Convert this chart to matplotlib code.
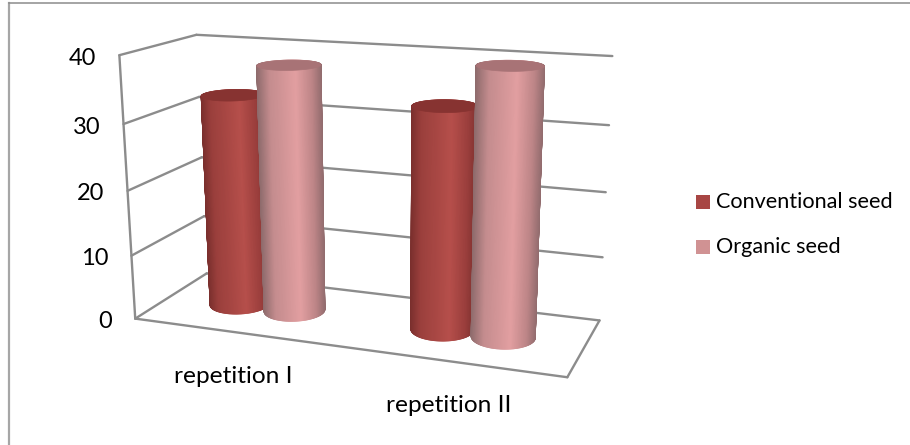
import numpy as np
import matplotlib
matplotlib.use("Agg")
import matplotlib.pyplot as plt
from matplotlib.collections import PolyCollection
from matplotlib.colors import to_rgb
from matplotlib.patches import Rectangle, Polygon

categories = ["repetition I", "repetition II"]
series_names = ["Conventional seed", "Organic seed"]
conventional = [33, 33.5]
organic = [38, 39.7]
z_ticks = [0, 10, 20, 30, 40]

GRID = "#8c8c8c"
TEXT = "#000000"
plt.rcParams["font.family"] = ["Lato", "DejaVu Sans"]

# box corners: (category, depth, value) -> pixel position, used to fit the camera
box_world = np.array([
    [0, 0, 0], [0, 1, 0], [2, 1, 0], [2, 0, 0],
    [0, 0, 40], [0, 1, 40], [2, 1, 40],
], dtype=float)
box_pixels = np.array([
    [134, 319], [208, 273], [599.3, 320.7], [567.3, 377],
    [120.7, 55], [195, 35], [612.6, 56],
])


def fit_camera(world, pix):
    rows = []
    for (x, y, z), (u, v) in zip(world, pix):
        p = [x, y, z / 40, 1]
        rows.append(p + [0, 0, 0, 0] + [-u * c for c in p])
        rows.append([0, 0, 0, 0] + p + [-v * c for c in p])
    _, _, vt = np.linalg.svd(np.array(rows))
    return vt[-1].reshape(3, 4)


cam = fit_camera(box_world, box_pixels)


def project(x, y, z):
    x, y, z = np.broadcast_arrays(x, y, z)
    p = np.stack([x, y, z / 40, np.ones(x.shape)], axis=-1)
    q = p @ cam.T
    return q[..., 0] / q[..., 2], q[..., 1] / q[..., 2]


def seg(ax, a, b):
    u, v = project(np.array([a[0], b[0]], float), np.array([a[1], b[1]], float),
                   np.array([a[2], b[2]], float))
    ax.plot(u, v, color=GRID, lw=1.7, solid_capstyle="round", zorder=1)


def cylinder(ax, cx, value, width, depth, stops, cap, z):
    # side strips drawn back to front, colour from position across the silhouette
    t = np.linspace(0, 2 * np.pi, 241)
    rx = cx + width / 2 * np.cos(t)
    ry = 0.5 + depth / 2 * np.sin(t)
    bu, bv = project(rx, ry, 0 * t)
    tu, tv = project(rx, ry, value + 0 * t)
    fr = (bu - bu.min()) / (bu.max() - bu.min())
    pos = [s[0] for s in stops]
    rgb = np.array([to_rgb(s[1]) for s in stops])
    order = np.argsort(-ry[:-1])
    polys, cols = [], []
    for i in order:
        polys.append([(bu[i], bv[i]), (bu[i + 1], bv[i + 1]), (tu[i + 1], tv[i + 1]), (tu[i], tv[i])])
        f = (fr[i] + fr[i + 1]) / 2
        cols.append([np.interp(f, pos, rgb[:, k]) for k in range(3)])
    ax.add_collection(PolyCollection(polys, facecolors=cols, edgecolors=cols, linewidths=0.6, zorder=z))
    ax.add_patch(Polygon(np.c_[tu, tv], facecolor=cap, edgecolor=cap, lw=0.5, zorder=z + 0.5))


conv_stops = [(0, "#7a2f2d"), (0.15, "#9a3f3c"), (0.6, "#b64f4b"), (0.85, "#9a3e3c"), (1, "#7d302e")]
org_stops = [(0, "#8e6b6c"), (0.2, "#c48c8e"), (0.6, "#e29fa1"), (0.85, "#bd8587"), (1, "#926c6e")]

fig = plt.figure(figsize=(9.1, 4.45), dpi=100)
ax = fig.add_axes([0, 0, 1, 1])
ax.set_xlim(0, 910)
ax.set_ylim(445, 0)
ax.axis("off")

# outer frame, only top and left show
ax.plot([9, 9], [3, 445], color="#a6a6a6", lw=1.6, zorder=0)
ax.plot([9, 910], [3, 3], color="#8c8c8c", lw=1.1, zorder=0)

for val in z_ticks:
    seg(ax, (0, 0, val), (0, 1, val))
    seg(ax, (0, 1, val), (2, 1, val))
    u, v = project(0.0, 0.0, float(val))
    ax.text(u - 23, v + 3, str(val), ha="right", va="center", fontsize=17, color=TEXT)
seg(ax, (0, 0, 0), (0, 0, 40))
seg(ax, (0, 0, 0), (2, 0, 0))
seg(ax, (2, 0, 0), (2, 1, 0))

bar_w = 0.28
bar_d = 0.42
for i, name in enumerate(categories):
    cylinder(ax, i + 0.5 - bar_w / 2, conventional[i], bar_w, bar_d, conv_stops, "#873331", 3 + 2 * i)
    cylinder(ax, i + 0.5 + bar_w / 2, organic[i], bar_w, bar_d, org_stops, "#a87376", 4 + 2 * i)
    u, v = project(i + 0.5, 0.0, 0.0)
    ax.text(u - 1, v + 44, name, ha="center", va="center", fontsize=17.6, color=TEXT)

for name, col, y in zip(series_names, ["#a84644", "#d09293"], [202, 247]):
    ax.add_patch(Rectangle((696, y - 7), 14, 14, facecolor=col, edgecolor="none"))
    ax.text(716, y, name, ha="left", va="center", fontsize=15.6, color=TEXT)

fig.savefig("out.png", dpi=100)
